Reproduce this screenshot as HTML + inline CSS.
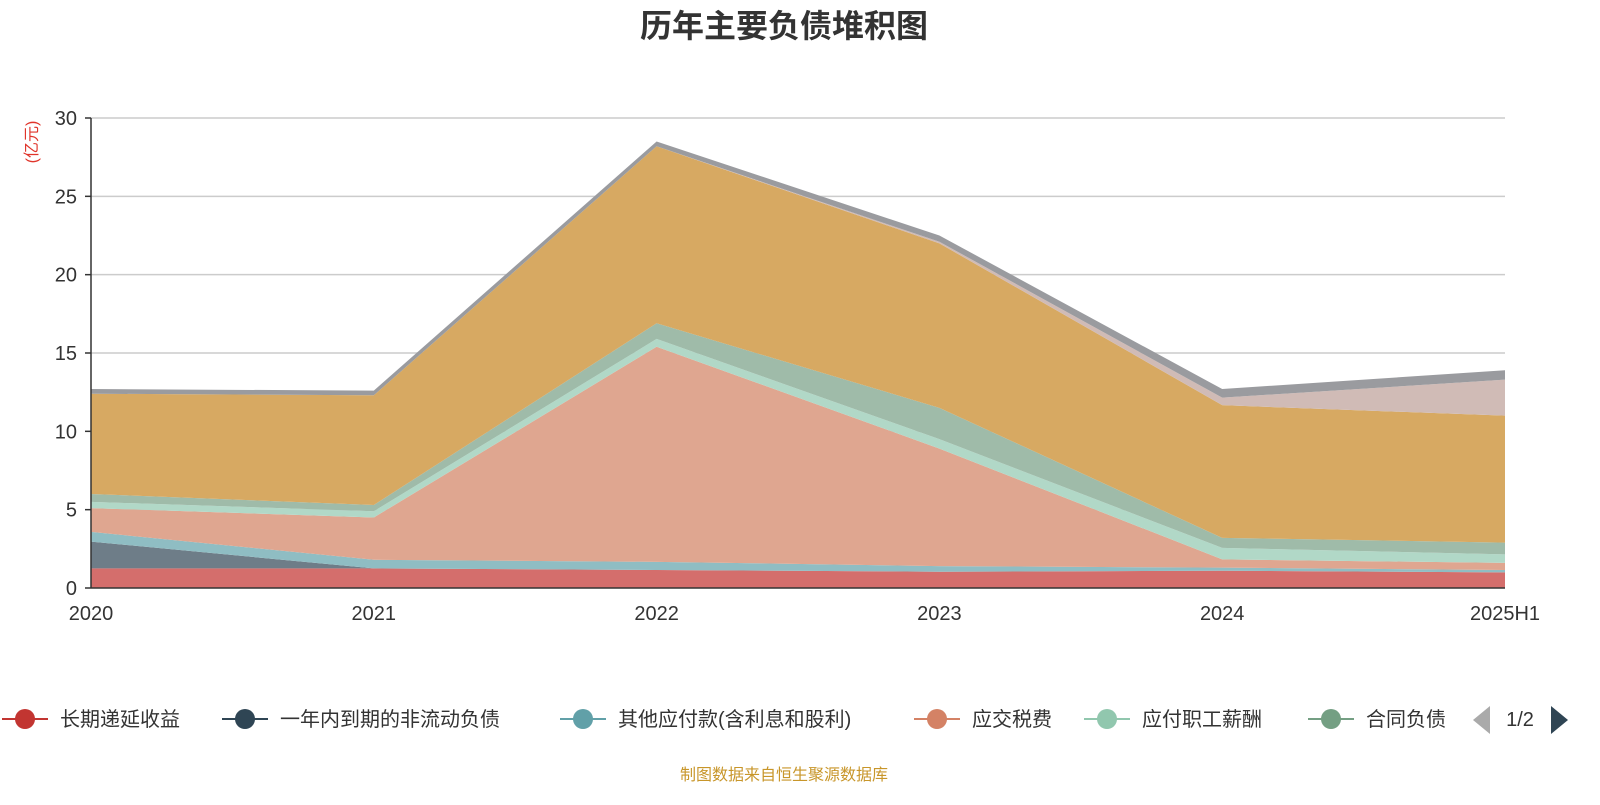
<!DOCTYPE html>
<html><head><meta charset="utf-8"><style>
body{margin:0;background:#fff;font-family:"Liberation Sans","Noto Sans CJK SC",sans-serif;}
</style></head><body>
<svg id="chart" width="1600" height="800" xmlns="http://www.w3.org/2000/svg" style="font-family:'Liberation Sans','Noto Sans CJK SC',sans-serif">
<text x="784" y="37" text-anchor="middle" font-size="32" font-weight="bold" fill="#333">历年主要负债堆积图</text>
<text transform="translate(37,142) rotate(-90)" text-anchor="middle" font-size="16" fill="#e0352b">(亿元)</text>
<g id="grid"></g>
<g id="areas"></g>
<g id="axes"></g>
<g id="legend"></g>
<text x="784" y="780" text-anchor="middle" font-size="16" fill="#c8962a">制图数据来自恒生聚源数据库</text>
</svg>
<script>
const categories = ["2020","2021","2022","2023","2024","2025H1"];
const yTicks = [0,5,10,15,20,25,30];
const seriesNames = ["长期递延收益","一年内到期的非流动负债","其他应付款(含利息和股利)","应交税费","应付职工薪酬","合同负债","应付账款","其他","应付票据"];
const sLongDeferred = [1.25,1.25,1.15,1.04,1.1,1.0];
const sCurrentNonCurrent = [1.71,0,0,0,0,0];
const sOtherPayables = [0.62,0.55,0.52,0.36,0.2,0.15];
const sTaxes = [1.52,2.7,13.73,7.5,0.53,0.45];
const sPayroll = [0.4,0.4,0.5,0.6,0.73,0.55];
const sContract = [0.5,0.4,1.0,2.0,0.64,0.75];
const sAccounts = [6.4,7.0,11.3,10.5,8.47,8.1];
const sOther = [0,0,0,0.1,0.48,2.3];
const sNotes = [0.3,0.3,0.3,0.4,0.55,0.6];
const allSeries = [sLongDeferred,sCurrentNonCurrent,sOtherPayables,sTaxes,sPayroll,sContract,sAccounts,sOther,sNotes];
const fills = ["#d46e6c","#6e7d88","#8fbdc3","#dfa690","#b1d8c7","#9fbba9","#d7a962","#d0bbb6","#9a9b9f"];
const legendColors = ["#c23531","#2f4554","#61a0a8","#d48265","#91c7ae","#749f83"];
const NS="http://www.w3.org/2000/svg";
const x0=91,x1=1505,y0=588,y1=118,ymax=30;
const xs=i=>x0+(x1-x0)*i/(categories.length-1);
const ys=v=>y0-(y0-y1)*v/ymax;
function mk(t,a,p){const e=document.createElementNS(NS,t);for(const k in a)e.setAttribute(k,a[k]);p.appendChild(e);return e;}
const grid=document.getElementById('grid'),axes=document.getElementById('axes'),areas=document.getElementById('areas'),legend=document.getElementById('legend');
yTicks.forEach(t=>{
 if(t>0){const g=mk('line',{x1:x0,x2:x1,y1:ys(t),y2:ys(t),stroke:'#ccc','stroke-width':1.5},grid);
 
 }
 const tk=mk('line',{x1:x0-6,x2:x0,y1:ys(t),y2:ys(t),stroke:'#333','stroke-width':1.5},axes);
 
 
 const l=mk('text',{x:x0-14,y:ys(t)+7,'text-anchor':'end','font-size':20,fill:'#333'},axes);l.textContent=t;
 
 
});
let base=categories.map(()=>0);
allSeries.forEach((s,k)=>{
 const top=base.map((b,i)=>b+s[i]);
 let d='M'+categories.map((c,i)=>xs(i)+','+ys(top[i])).join('L');
 for(let i=categories.length-1;i>=0;i--)d+='L'+xs(i)+','+ys(base[i]);
 const p=mk('path',{d:d+'Z',fill:fills[k]},areas);
 
 
 base=top;
});
mk('line',{x1:x0,x2:x0,y1:y1,y2:y0,stroke:'#333','stroke-width':1.5},axes);
mk('line',{x1:x0,x2:x1,y1:y0,y2:y0,stroke:'#333','stroke-width':1.5},axes);
categories.forEach((c,i)=>{
 const l=mk('text',{x:xs(i),y:620,'text-anchor':i==categories.length-1?'middle':'middle','font-size':20,fill:'#333'},axes);l.textContent=c;
 
 
});
const legX=[2,222,560,914,1084,1308];
const clip=mk('clipPath',{id:'lc'},legend);mk('rect',{x:0,y:690,width:1455,height:60},clip);
const lg=mk('g',{'clip-path':'url(#lc)'},legend);
seriesNames.slice(0,6).forEach((n,i)=>{
 const g=mk('g',{},lg);
 
 
 mk('line',{x1:legX[i],x2:legX[i]+46,y1:719,y2:719,stroke:legendColors[i],'stroke-width':2},g);
 mk('circle',{cx:legX[i]+23,cy:719,r:10,fill:legendColors[i]},g);
 const t=mk('text',{x:legX[i]+58,y:726,'font-size':20,fill:'#333'},g);t.textContent=n;
});
const pl=mk('path',{d:'M1490,706L1473,720L1490,734Z',fill:'#aaa'},legend);


const pt=mk('text',{x:1520,y:726,'text-anchor':'middle','font-size':20,fill:'#333'},legend);pt.textContent='1/2';


const pn=mk('path',{d:'M1551,706L1568,720L1551,734Z',fill:'#2f4554'},legend);


</script>
</body></html>
